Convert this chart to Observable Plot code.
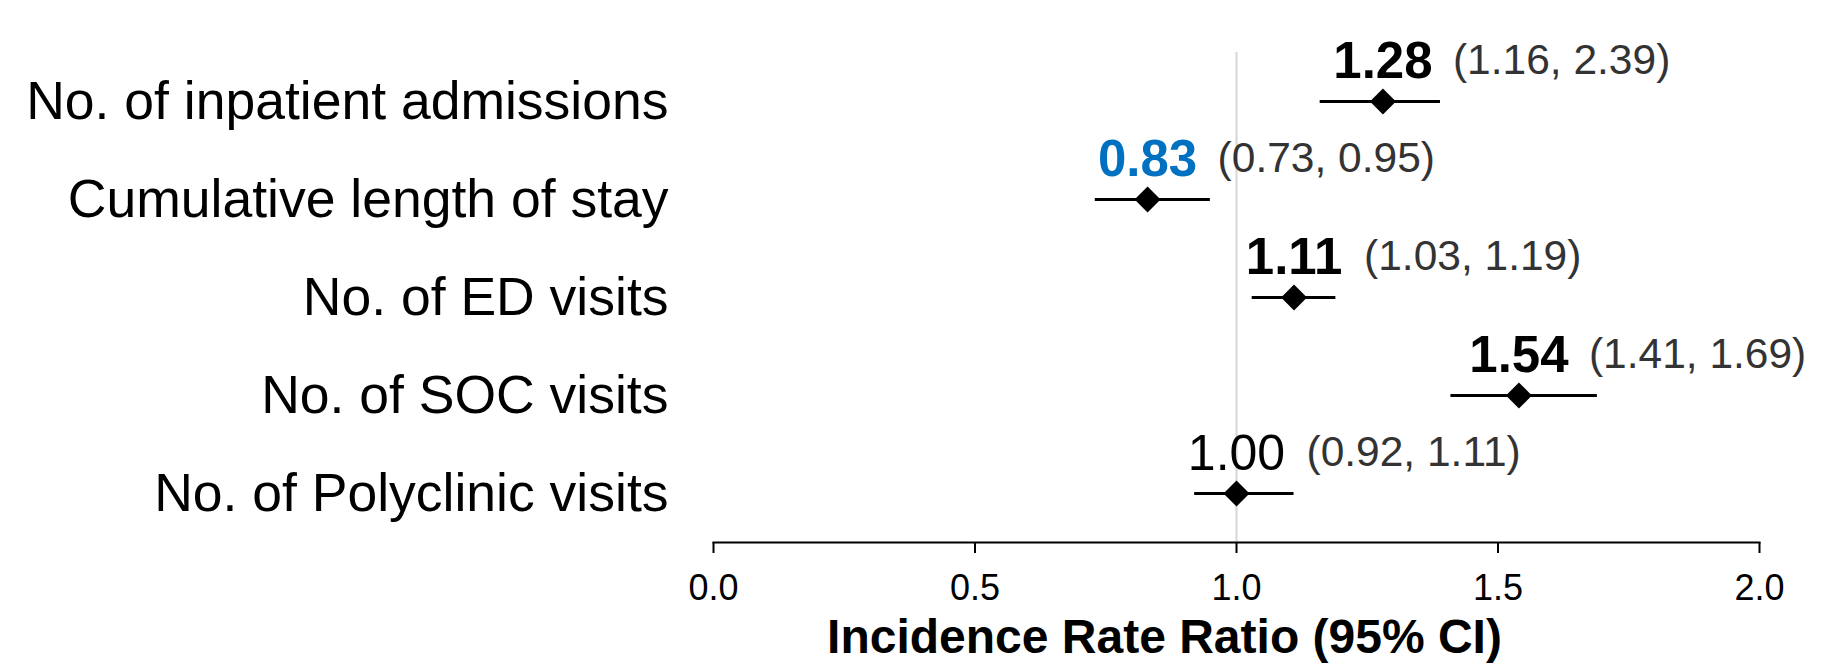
<!DOCTYPE html>
<html>
<head>
<meta charset="utf-8">
<script src="https://cdn.jsdelivr.net/npm/d3@7"></script>
<script src="https://cdn.jsdelivr.net/npm/@observablehq/plot@0.6"></script>
<style>
  html, body { margin: 0; padding: 0; background: #fff; }
  #chart svg { display: block; }
</style>
</head>
<body>
<div id="chart"></div>
<script>
const categories = [
  "No. of inpatient admissions",
  "Cumulative length of stay",
  "No. of ED visits",
  "No. of SOC visits",
  "No. of Polyclinic visits"
];
const estimates = [1.28, 0.83, 1.11, 1.54, 1.00];
const ciLow = [1.16, 0.73, 1.03, 1.41, 0.92];
const ciHigh = [1.39, 0.95, 1.19, 1.69, 1.11];
const valueLabels = ["1.28", "0.83", "1.11", "1.54", "1.00"];
const ciLabels = ["(1.16, 2.39)", "(0.73, 0.95)", "(1.03, 1.19)", "(1.41, 1.69)", "(0.92, 1.11)"];
const xTicks = [0, 0.5, 1, 1.5, 2];
const xTickLabels = ["0.0", "0.5", "1.0", "1.5", "2.0"];
const axisTitle = "Incidence Rate Ratio (95% CI)";

const rows = categories.map((cat, i) => ({
  cat,
  est: estimates[i],
  lo: ciLow[i],
  hi: ciHigh[i],
  val: valueLabels[i],
  ci: ciLabels[i]
}));
const significant = d => d.lo > 1 || d.hi < 1;

const chart = Plot.plot({
  width: 1834,
  height: 663,
  marginLeft: 713,
  marginRight: 75,
  marginTop: 52,
  marginBottom: 121,
  style: { fontFamily: "'Liberation Sans', Arial, Helvetica, sans-serif", background: "#fff", color: "#000" },
  x: { domain: [0, 2] },
  y: { type: "point", domain: categories, padding: 0.5 },
  color: { type: "identity" },
  marks: [
    Plot.ruleX([1], { stroke: "#d6d6d6", strokeWidth: 2 }),
    Plot.frame({ anchor: "bottom", stroke: "#000", strokeWidth: 2 }),
    Plot.axisX(xTicks, {
      tickSize: 11, tickPadding: 21, strokeWidth: 2, fontSize: 36,
      tickFormat: d => xTickLabels[xTicks.indexOf(d)], label: null
    }),
    Plot.axisY({ tickSize: 0, tickPadding: 45, fontSize: 53.5, label: null }),
    Plot.ruleY(rows, { y: "cat", x1: "lo", x2: "hi", stroke: "#000", strokeWidth: 3 }),
    Plot.dot(rows, { x: "est", y: "cat", symbol: "diamond2", r: 11.7, fill: "#000", stroke: null }),
    Plot.text(rows.filter(significant), {
      x: "est", y: "cat", text: "val", fontSize: 51, fontWeight: "bold",
      textAnchor: "middle", lineAnchor: "bottom", dy: -24,
      fill: d => d.hi < 1 ? "#0070C0" : "#000"
    }),
    Plot.text(rows.filter(d => !significant(d)), {
      x: "est", y: "cat", text: "val", fontSize: 50,
      textAnchor: "middle", lineAnchor: "bottom", dy: -24, fill: "#000"
    }),
    Plot.text(rows, {
      x: "est", y: "cat", text: "ci", fontSize: 42.5,
      textAnchor: "start", lineAnchor: "bottom", dx: 70, dy: -28, fill: "#333"
    }),
    Plot.text([axisTitle], {
      frameAnchor: "bottom", text: d => d, fontSize: 48, fontWeight: "bold",
      lineAnchor: "bottom", dy: 110, dx: -72, fill: "#000"
    })
  ]
});
document.getElementById("chart").appendChild(chart);
</script>
</body>
</html>
